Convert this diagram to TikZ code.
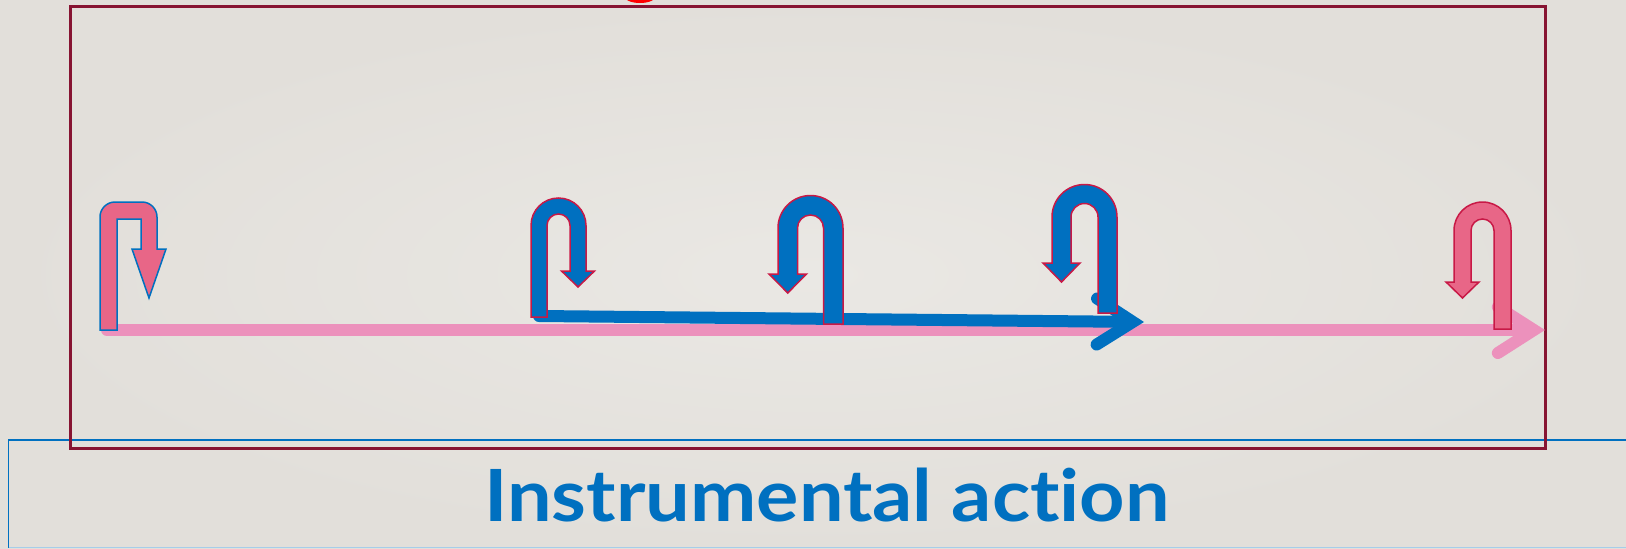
\documentclass[tikz,border=0pt]{standalone}
\usepackage{fontspec}
\newfontfamily\titlefont{Lato}[Ligatures=NoCommon, FakeStretch=1.1]
\usetikzlibrary{arrows.meta}
\definecolor{slidebg}{RGB}{226,223,218}
\definecolor{slidelight}{RGB}{234,232,228}
\definecolor{framered}{RGB}{135,20,50}
\definecolor{titleblue}{RGB}{0,112,192}
\definecolor{turnpink}{RGB}{232,102,135}
\definecolor{turnred}{RGB}{200,25,70}
\definecolor{linepink}{RGB}{236,145,188}
\tikzset{
  pinkturn/.style={fill=turnpink, draw=titleblue, line width=1.5pt},
  blueturn/.style={fill=titleblue, draw=turnred, line width=1.5pt},
  lastturn/.style={fill=turnpink, draw=turnred, line width=1.5pt},
  pinkflow/.style={-{Straight Barb[length=36pt, width=46pt, line cap=round, line join=miter]}, line width=12pt, linepink, line cap=round},
  blueflow/.style={-{Straight Barb[length=36pt, width=46pt, line cap=round, line join=miter]}, line width=12pt, titleblue, line cap=round},
  titletext/.style={font=\titlefont\bfseries\fontsize{72}{80}\selectfont, text=titleblue, inner sep=0pt, anchor=base}
}

\begin{document}
\begin{tikzpicture}[x=1pt, y=-1pt]
  \useasboundingbox (0,0) rectangle (1626,549);
  \shade[inner color=slidelight, outer color=slidebg] (0,0) rectangle (1626,549);
  \fill[red] (640,-4) ellipse [x radius=16, y radius=7];

  % title box
  \draw[titleblue, line width=1.5pt] (1640,440) -- (8.5,440) -- (8.5,547.5);
  \draw[titleblue!35, line width=1.5pt] (8.5,547.5) -- (1640,547.5);
  \node[titletext] (title) at (827,521) {Instrumental action};

  % frame
  \draw[framered, line width=3pt] (70,6) rectangle (1545,448);

  % the two paths
  \coordinate (pinkstart) at (107,330);
  \coordinate (pinkend) at (1545,330);
  \coordinate (bluestart) at (539,316);
  \coordinate (blueend) at (1144,322);
  \draw[pinkflow] (pinkstart) -- (pinkend);
  \draw[blueflow] (bluestart) -- (blueend);

  % u-turns
  \draw[pinkturn] (100,330) -- (100,217) arc[start angle=180, end angle=270, radius=15] -- (142,202) arc[start angle=270, end angle=360, radius=15] -- (157,249) -- (166,249) -- (149,298) -- (132,249) -- (141,249) -- (141,219) -- (117,219) -- (117,330) -- cycle;
  \draw[blueturn] (531,317) -- (531,225.5) arc[start angle=180, end angle=360, radius=27.5] -- (586,271) -- (594.5,271) -- (578,287) -- (561.5,271) -- (570,271) -- (570,225.5) arc[start angle=360, end angle=180, radius=11.5] -- (547,317) -- cycle;
  \draw[blueturn] (843,324) -- (843,228) arc[start angle=360, end angle=180, radius=32.5] -- (778,274) -- (769,274) -- (787.75,293) -- (806.5,274) -- (797.5,274) -- (797.5,228) arc[start angle=180, end angle=360, radius=13] -- (823.5,324) -- cycle;
  \draw[blueturn] (1117,313) -- (1117,217) arc[start angle=360, end angle=180, radius=32.5] -- (1052,263) -- (1043,263) -- (1061.5,282) -- (1080,263) -- (1071,263) -- (1071,217) arc[start angle=180, end angle=360, radius=13.5] -- (1098,313) -- cycle;
  \draw[lastturn] (1511,329) -- (1511,230.5) arc[start angle=360, end angle=180, radius=28.5] -- (1454,282) -- (1446,282) -- (1462.5,298) -- (1479,282) -- (1471,282) -- (1471,230.5) arc[start angle=180, end angle=360, radius=11.5] -- (1494,329) -- cycle;
\end{tikzpicture}
\end{document}
